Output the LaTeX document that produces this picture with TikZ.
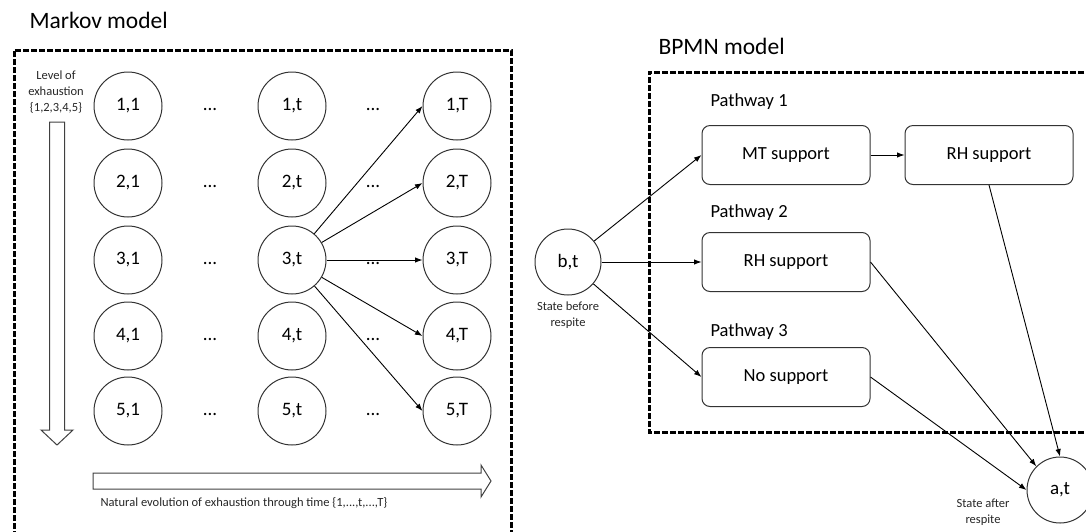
\documentclass[tikz,border=0pt]{standalone}
\usepackage{fontspec}
\setmainfont{Carlito}
\usepackage{tikz}
\usetikzlibrary{arrows.meta}

\begin{document}
\begin{tikzpicture}[x=1pt, y=-1pt,
  markovnode/.style={circle, draw=black!80, line width=1pt, minimum size=68pt, inner sep=0pt, text=black, font=\fontsize{19}{22}\selectfont},
  task/.style={rectangle, rounded corners=8pt, draw=black!80, line width=1pt, minimum width=168pt, minimum height=59pt, text=black, font=\fontsize{18.5}{22}\selectfont},
  dotsnode/.style={inner sep=0pt, text=black, font=\fontsize{19}{22}\selectfont},
  title/.style={anchor=west, text=black, font=\fontsize{23.5}{28}\selectfont},
  pathlabel/.style={anchor=west, text=black, font=\fontsize{18.5}{22}\selectfont},
  note/.style={align=center, text=black!85, font=\fontsize{12.5}{16}\selectfont},
  region/.style={line width=3pt, dash pattern=on 6pt off 2pt},
  flow/.style={-{Latex[length=7.5pt,width=5.5pt]}, line width=0.9pt, black},
  bigarrow/.style={draw=black!75, line width=1pt}]
\clip (0,0) rectangle (1086,531);
%% titles and dashed regions
\node[title] (markovtitle) at (26,20) {Markov model};
\node[title] (bpmntitle) at (655,46) {BPMN model};
\draw[region] (14,545) -- (14,50) -- (511,50) -- (511,545);
\draw[region] (1100,72) -- (649,72) -- (649,432) -- (1100,432);

%% markov states, first column
\node[markovnode] (c11) at (128,106) {1,1};
\node[markovnode] (c21) at (128,183) {2,1};
\node[markovnode] (c31) at (128,260) {3,1};
\node[markovnode] (c41) at (128,336) {4,1};
\node[markovnode] (c51) at (128,411) {5,1};
%% markov states, column t
\node[markovnode] (c1t) at (292,106) {1,t};
\node[markovnode] (c2t) at (292,183) {2,t};
\node[markovnode] (c3t) at (292,260) {3,t};
\node[markovnode] (c4t) at (292,336) {4,t};
\node[markovnode] (c5t) at (292,411) {5,t};
%% markov states, last column
\node[markovnode] (c1T) at (457,106) {1,T};
\node[markovnode] (c2T) at (457,183) {2,T};
\node[markovnode] (c3T) at (457,260) {3,T};
\node[markovnode] (c4T) at (457,336) {4,T};
\node[markovnode] (c5T) at (457,411) {5,T};
%% dots between columns
\node[dotsnode] (d11) at (210,109) {...};
\node[dotsnode] (d21) at (210,186) {...};
\node[dotsnode] (d31) at (210,263) {...};
\node[dotsnode] (d41) at (210,339) {...};
\node[dotsnode] (d51) at (210,414) {...};
\node[dotsnode] (d12) at (373,109) {...};
\node[dotsnode] (d22) at (373,186) {...};
\node[dotsnode] (d32) at (373,263) {...};
\node[dotsnode] (d42) at (373,339) {...};
\node[dotsnode] (d52) at (373,414) {...};

%% transitions from 3,t
\draw[flow] (c3t) -- (c1T.west);
\draw[flow] (c3t) -- (c2T.west);
\draw[flow] (c3t) -- (c3T.west);
\draw[flow] (c3t) -- (c4T.west);
\draw[flow] (c3t) -- (c5T.west);

%% exhaustion and time arrows
\node[note] (levellabel) at (56,92) {Level of\\exhaustion\\\{1,2,3,4,5\}};
\draw[bigarrow] (49.5,122) -- (64.5,122) -- (64.5,430) -- (73,430) -- (57,445) -- (41,430) -- (49.5,430) -- cycle;
\draw[bigarrow] (93,473) -- (481,473) -- (481,465) -- (491,481) -- (481,497) -- (481,489) -- (93,489) -- cycle;
\node[note, anchor=west] (timelabel) at (97,503) {Natural evolution of exhaustion through time \{1,...,t,...,T\}};

%% bpmn part
\node[markovnode, minimum size=66pt] (bt) at (568,262) {b,t};
\node[note, below=3pt] (beforelabel) at (bt.south) {State before\\respite};
\node[pathlabel] (pw1) at (707,102) {Pathway 1};
\node[pathlabel] (pw2) at (707,213) {Pathway 2};
\node[pathlabel] (pw3) at (707,332) {Pathway 3};
\node[task] (mt) at (786,155) {MT support};
\node[task] (rh1) at (989,155) {RH support};
\node[task] (rh2) at (786,262) {RH support};
\node[task] (nosup) at (786,377) {No support};
\node[markovnode, minimum size=66pt] (at) at (1060,490) {a,t};
\node[note] (afterlabel) at (983,512) {State after\\respite};

%% pathways
\draw[flow] (bt) -- (mt.west);
\draw[flow] (bt) -- (rh2.west);
\draw[flow] (bt) -- (nosup.west);
\draw[flow] (mt) -- (rh1);
\draw[flow] (rh1.south) -- (at.north);
\draw[flow] (rh2.east) -- (at.north west);
\draw[flow] (nosup.east) -- (at.west);

\end{tikzpicture}
\end{document}
